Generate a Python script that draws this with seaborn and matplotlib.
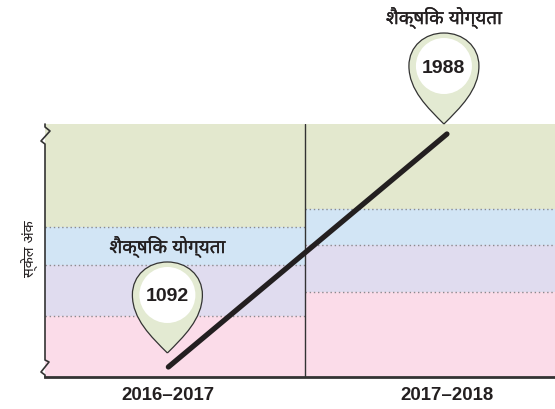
# plot.py
import matplotlib
matplotlib.use('Agg')
import matplotlib.patheffects as pe
import matplotlib.pyplot as plt
import pandas as pd
import seaborn as sns
from matplotlib.patches import Circle, PathPatch
from matplotlib.path import Path
from matplotlib.transforms import Affine2D, ScaledTranslation

anos = ['2016–2017', '2017–2018']
valores = [1092, 1988]
rotulo_pino = 'शैक्षिक योग्यता'
rotulo_y = 'स्केल अंक'

# limites das faixas (de baixo para cima) em cada ano
faixas_2016 = [1288, 1484, 1630]
faixas_2017 = [1380, 1561, 1701]
y_min, y_max = 1053.5, 2026.5
cores = ['#FBDCE9', '#E0DCEF', '#D2E5F5', '#E3E8CE']

X_MIN, X_DIV, X_MAX = -0.443, 0.492, 1.388
COR_TEXTO = '#231F20'

sns.set_theme(style='white')
plt.rcParams['font.family'] = ['Liberation Sans', 'Noto Sans', 'DejaVu Sans']

df = pd.DataFrame({'pos': range(len(anos)), 'valor': valores})

fig = plt.figure(figsize=(5.55, 4.09), dpi=100)
ax = fig.add_axes([45 / 555, 32 / 409, 510 / 555, 253 / 409])

# faixas de fundo
for x0, x1, limites in [(X_MIN, X_DIV, faixas_2016), (X_DIV, X_MAX, faixas_2017)]:
    bordas = [y_min] + limites + [y_max]
    for i, cor in enumerate(cores):
        ax.fill_between([x0, x1], bordas[i], bordas[i + 1], color=cor, lw=0, zorder=1)
    ax.hlines(limites, x0, x1, color='#8A8A8E', lw=1, linestyles=(0, (1, 2)), zorder=2)

ax.axvline(X_DIV, color='#333333', lw=1, zorder=3)

sns.lineplot(data=df, x='pos', y='valor', color='#231F20', lw=3.8, ax=ax, zorder=4,
             solid_capstyle='round', legend=False)

ax.set_xlim(X_MIN, X_MAX)
ax.set_ylim(y_min, y_max)
ax.set_xticks(df['pos'], anos, fontsize=13.4, fontweight='bold', color=COR_TEXTO)
ax.set_yticks([])
ax.tick_params(axis='x', length=0, pad=7.5)
ax.set_xlabel('')
ax.set_ylabel('')
sns.despine(ax=ax, top=True, right=True, left=True)
ax.spines['bottom'].set_color('#333333')
ax.spines['bottom'].set_linewidth(2)

# texto hindi com um leve contorno, a fonte nao tem negrito forte
negrito = [pe.withStroke(linewidth=0.2, foreground=COR_TEXTO)]

# pinos: deslocamento da ponta em relacao ao ponto, em pixels
pinos = [(-1, 14), (-3, 10)]
forma = Path(
    [(0, 0), (-16, 16), (-35, 34), (-35, 58), (-35, 78), (-19, 91), (0, 91),
     (19, 91), (35, 78), (35, 58), (35, 34), (16, 16), (0, 0)],
    [Path.MOVETO] + [Path.CURVE4] * 12,
)
for pos, valor, (dx, dy) in zip(df['pos'], valores, pinos):
    tr = Affine2D().translate(dx, dy) + ScaledTranslation(pos, valor, ax.transData)
    ax.add_patch(PathPatch(forma, fc='#E3EAD2', ec='#333333', lw=0.9, transform=tr,
                           clip_on=False, zorder=5))
    ax.add_patch(Circle((0, 58), 28, fc='white', ec='none', transform=tr, clip_on=False, zorder=6))
    ax.text(0, 56, str(valor), transform=tr, ha='center', va='center', fontsize=14,
            fontweight='bold', color=COR_TEXTO, zorder=7)
    ax.text(0, 106, rotulo_pino, transform=tr, ha='center', va='center', fontsize=13.6,
            fontweight='bold', color=COR_TEXTO, zorder=7, path_effects=negrito)

# eixo vertical com as quebras
tr_eixo = Affine2D() + ScaledTranslation(X_MIN, y_min, ax.transData)
eixo_x = [0, 0, -4, 4, 0, 0, -4, 5, 0, 0]
eixo_y = [0, 2, 5, 15, 17, 233, 236, 246, 250, 253]
ax.plot(eixo_x, eixo_y, color='#333333', lw=1.2, transform=tr_eixo, clip_on=False, zorder=5)

fig.text(30 / 555, 1 - 249 / 409, rotulo_y, rotation=90, ha='center', va='center',
         fontsize=10.4, color=COR_TEXTO)

fig.savefig('out.png', dpi=100)
